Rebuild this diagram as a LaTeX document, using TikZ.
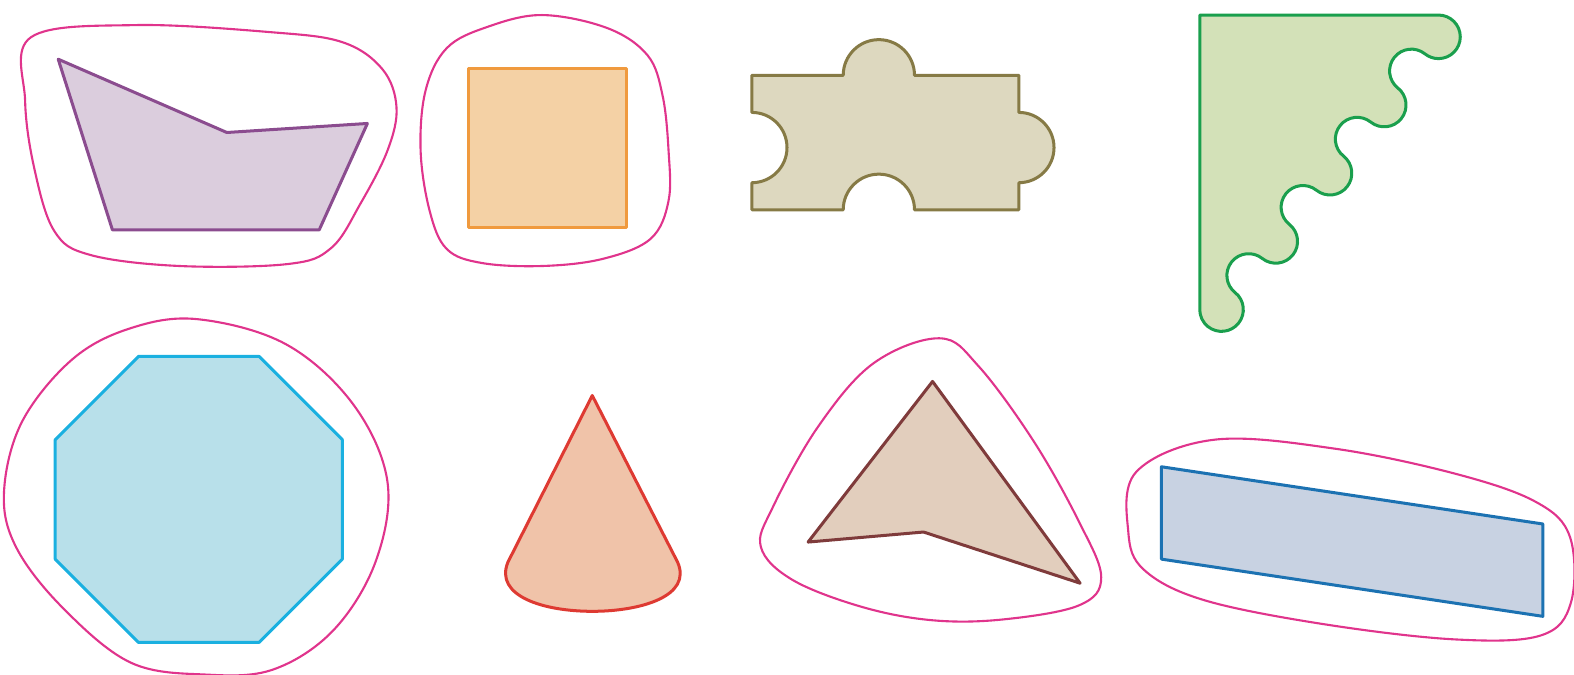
\documentclass[tikz,border=0pt]{standalone}
\usetikzlibrary{calc}

\definecolor{blobpink}{RGB}{224,52,140}
\definecolor{boatline}{RGB}{139,76,143}
\definecolor{boatfill}{RGB}{219,205,221}
\definecolor{sqline}{RGB}{240,154,62}
\definecolor{sqfill}{RGB}{244,209,165}
\definecolor{puzline}{RGB}{134,122,69}
\definecolor{puzfill}{RGB}{221,216,191}
\definecolor{waveline}{RGB}{26,159,77}
\definecolor{wavefill}{RGB}{211,225,184}
\definecolor{octline}{RGB}{26,176,224}
\definecolor{octfill}{RGB}{184,224,234}
\definecolor{coneline}{RGB}{222,58,50}
\definecolor{conefill}{RGB}{240,195,169}
\definecolor{kiteline}{RGB}{127,59,59}
\definecolor{kitefill}{RGB}{226,206,189}
\definecolor{barline}{RGB}{28,114,178}
\definecolor{barfill}{RGB}{200,210,226}

\begin{document}
\begin{tikzpicture}[
  x=0.5pt, y=-0.5pt,
  blob/.style={draw=blobpink, line width=1.05pt},
  piece/.style={line width=1.5pt, line join=round},
]
\useasboundingbox (0,0) rectangle (1568,672);
\def\r{21.7}

% top row
\filldraw[piece, draw=boatline, fill=boatfill]
  (58,59) -- (226,132) -- (366,123) -- (318,229) -- (112,229) -- cycle;
\draw[blob] plot[smooth cycle, tension=0.6] coordinates {
  (31,37) (135,25) (269,32) (341,42) (381,69) (395,107) (386,150)
  (359,203) (330,247) (287,263) (179,265) (90,254) (54,230) (34,167)
  (25,100)};

\filldraw[piece, draw=sqline, fill=sqfill] (467,68) rectangle (624,227);
\draw[blob] plot[smooth cycle, tension=0.6] coordinates {
  (540,15) (605,28) (645,55) (660,95) (666,150) (666,200) (648,238)
  (600,258) (540,265) (480,262) (445,248) (428,210) (419,150) (424,90)
  (445,48) (485,27)};

\filldraw[piece, draw=puzline, fill=puzfill]
  (749,75) -- (840,75) arc[start angle=180, end angle=360, radius=35.5]
  -- (1015,75) -- (1015,112) arc[start angle=-90, end angle=90, radius=35]
  -- (1015,209) -- (911,209) arc[start angle=0, end angle=-180, radius=35.5]
  -- (749,209) -- (749,182) arc[start angle=90, end angle=-90, radius=35]
  -- cycle;

\filldraw[piece, draw=waveline, fill=wavefill]
  (1433,15) arc[start angle=-90, end angle=128.5, radius=\r]
  \foreach \i in {1,2,3} {
    arc[start angle=-51.5, end angle=-231.5, radius=\r]
    arc[start angle=-51.5, end angle=128.5, radius=\r]
  }
  arc[start angle=-51.5, end angle=-231.5, radius=\r]
  arc[start angle=-51.5, end angle=180, radius=\r] |- (1433,15) -- cycle;

% bottom row
\filldraw[piece, draw=octline, fill=octfill]
  (138,355) -- (258,355) -- (341,438) -- (341,557) -- (258,640)
  -- (138,640) -- (55,557) -- (55,438) -- cycle;
\draw[blob] plot[smooth cycle, tension=0.6] coordinates {
  (197,318) (285,343) (352,403) (386,480) (374,560) (332,628) (272,667)
  (205,672) (130,660) (62,605) (16,545) (4,490) (22,420) (72,358)
  (130,327)};

\filldraw[piece, draw=coneline, fill=conefill]
  (590,394) -- (506,560) .. controls (492,594) and (542,609) .. (590,609)
  .. controls (638,609) and (690,594) .. (675,560) -- cycle;

\filldraw[piece, draw=kiteline, fill=kitefill]
  (929,380) -- (1076,581) -- (920,530) -- (805,540) -- cycle;
\draw[blob] plot[smooth cycle, tension=0.6] coordinates {
  (936,337) (975,365) (1030,440) (1075,520) (1097,575) (1075,603)
  (1000,617) (930,618) (860,605) (790,578) (758,545) (770,505)
  (815,425) (870,362)};

\filldraw[piece, draw=barline, fill=barfill]
  (1157,465) -- (1537,522) -- (1537,614) -- (1157,557) -- cycle;
\draw[blob] plot[smooth cycle, tension=0.6] coordinates {
  (1210,438) (1330,447) (1450,472) (1530,500) (1564,535) (1565,600)
  (1535,633) (1450,637) (1320,622) (1200,598) (1140,568) (1124,530)
  (1132,470)};
\end{tikzpicture}
\end{document}
